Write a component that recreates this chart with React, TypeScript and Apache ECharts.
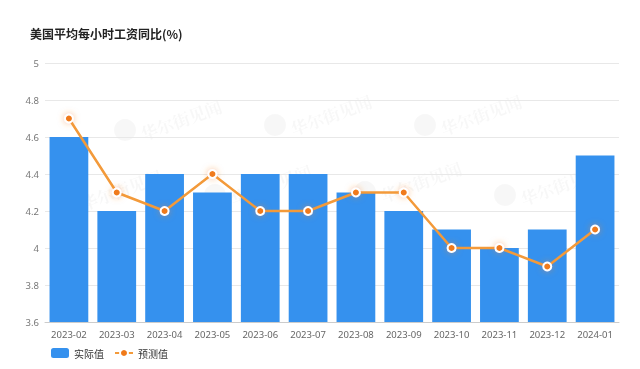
import React, { useEffect, useRef } from "react";
import * as echarts from "echarts";

const categories = ["2023-02", "2023-03", "2023-04", "2023-05", "2023-06", "2023-07", "2023-08", "2023-09", "2023-10", "2023-11", "2023-12", "2024-01"];
const actual = [4.6, 4.2, 4.4, 4.3, 4.4, 4.4, 4.3, 4.2, 4.1, 4.0, 4.1, 4.5];
const forecast = [4.7, 4.3, 4.2, 4.4, 4.2, 4.2, 4.3, 4.3, 4.0, 4.0, 3.9, 4.1];
const seriesNames = ["实际值", "预测值"];
const titleText = "美国平均每小时工资同比(%)";

const watermarkSpots = [
  [125, 130], [275, 125], [425, 125],
  [65, 200], [215, 195], [365, 192], [505, 195],
];

export default function App() {
  const ref = useRef<HTMLDivElement>(null);
  useEffect(() => {
    const chart = echarts.init(ref.current!, null, { renderer: "svg" });
    const wm: any[] = [];
    watermarkSpots.forEach(([x, y]) => {
      wm.push({
        type: "circle", shape: { cx: x, cy: y, r: 11 }, silent: true, z: -10,
        style: { fill: "rgba(0,0,0,0.03)" },
      });
      wm.push({
        type: "text", x: x + 16, y: y + 4, rotation: 0.35, silent: true, z: -10,
        style: { text: "华尔街见闻", fill: "rgba(0,0,0,0.03)", font: "bold 17px 'Noto Serif CJK SC', 'Noto Sans CJK SC'", verticalAlign: "middle" },
      });
    });
    chart.setOption({
      animation: false,
      title: {
        text: titleText, left: 25, top: 22,
        textStyle: { fontSize: 12, fontWeight: "bold", color: "#222", fontFamily: "'Noto Sans CJK SC', sans-serif" },
      },
      graphic: wm,
      grid: { left: 45, right: 21, top: 63, bottom: 47 },
      legend: {
        left: 46, top: 343, itemWidth: 18, itemHeight: 10, itemGap: 10,
        textStyle: { fontSize: 10, color: "#333", fontFamily: "'Noto Sans CJK SC', sans-serif" },
        data: [
          { name: seriesNames[0], icon: "roundRect" },
          { name: seriesNames[1] },
        ],
      },
      xAxis: {
        type: "category", data: categories,
        axisLine: { lineStyle: { color: "#ccc" } },
        axisTick: { show: false },
        axisLabel: { color: "#666", fontSize: 9.5, margin: 7, interval: 0, fontFamily: "'Noto Sans', sans-serif" },
      },
      yAxis: {
        type: "value", min: 3.6, max: 5, interval: 0.2,
        axisLine: { show: false }, axisTick: { show: false },
        axisLabel: { color: "#777", fontSize: 9.5, margin: 6, fontFamily: "'Noto Sans', sans-serif" },
        splitLine: { lineStyle: { color: "#e8e8e8" } },
      },
      series: [
        {
          name: seriesNames[0], type: "bar", data: actual, barWidth: "81%",
          itemStyle: { color: "#3591EE" },
        },
        {
          name: seriesNames[1], type: "line", data: forecast,
          symbol: "circle", symbolSize: 8,
          lineStyle: { color: "#F39A3A", width: 2.5 },
          itemStyle: { color: "#F07A1A", borderColor: "#fff", borderWidth: 2, shadowColor: "rgba(245,130,40,0.5)", shadowBlur: 6 },
        },
      ],
    });
    return () => chart.dispose();
  }, []);
  return <div ref={ref} style={{ position: "fixed", left: 0, top: 0, width: 640, height: 369 }} />;
}
